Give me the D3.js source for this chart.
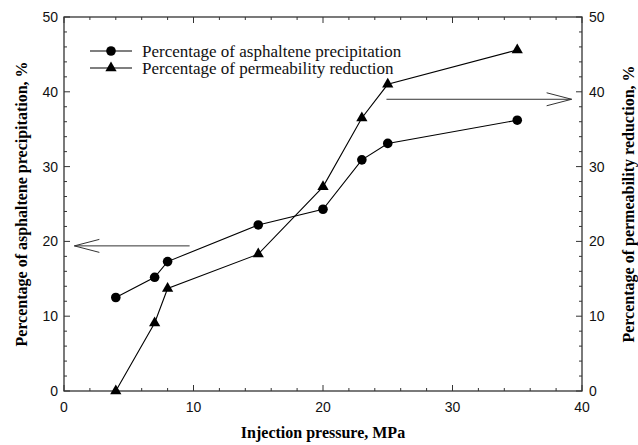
<!DOCTYPE html>
<html>
<head>
<meta charset="utf-8">
<script src="https://cdn.jsdelivr.net/npm/d3@7"></script>
<style>
  body { margin: 0; background: #fff; }
  svg { display: block; }
  .serif { font-family: "Liberation Serif", "Times New Roman", "DejaVu Serif", serif; }
  .sans { font-family: "Liberation Sans", Arial, sans-serif; }
</style>
</head>
<body>
<div id="chart"></div>
<script>
// ========================
// DATA
// ========================
const pressure = [4, 7, 8, 15, 20, 23, 25, 35];
const asphaltenePct = [12.5, 15.2, 17.3, 22.2, 24.3, 30.9, 33.1, 36.2];
const permeabilityPct = [0, 9.1, 13.7, 18.3, 27.3, 36.5, 41.0, 45.6];
const xTicks = [0, 10, 20, 30, 40];
const yTicks = [0, 10, 20, 30, 40, 50];
const seriesNames = ["Percentage of asphaltene precipitation", "Percentage of permeability reduction"];
// arrows: [fromX, toX, yValue]
const arrowLeft = [9.7, 0.8, 19.4];
const arrowRight = [24.9, 39.2, 39.0];

// ========================
// SETUP
// ========================
const width = 638, height = 445;
const margin = { top: 17, right: 56, bottom: 54, left: 64 };
const innerW = width - margin.left - margin.right;
const innerH = height - margin.top - margin.bottom;

const svg = d3.select("#chart").append("svg")
    .attr("width", width)
    .attr("height", height);

const g = svg.append("g").attr("transform", `translate(${margin.left},${margin.top})`);

const x = d3.scaleLinear().domain([0, 40]).range([0, innerW]);
const yL = d3.scaleLinear().domain([0, 50]).range([innerH, 0]);
const yR = d3.scaleLinear().domain([0, 50]).range([innerH, 0]);

const axisColor = "#333";

// frame
g.append("rect")
    .attr("width", innerW).attr("height", innerH)
    .attr("fill", "none").attr("stroke", axisColor).attr("stroke-width", 1.3);

// ticks (inward), major every 10, minor every 2
const minor = d3.range(0, 40.01, 2).filter(v => v % 10 !== 0);
const minorY = d3.range(0, 50.01, 2).filter(v => v % 10 !== 0);

function drawTicks(values, len) {
    values.forEach(v => {
        g.append("line").attr("x1", x(v)).attr("x2", x(v))
            .attr("y1", innerH).attr("y2", innerH - len)
            .attr("stroke", axisColor).attr("stroke-width", 1);
        g.append("line").attr("x1", x(v)).attr("x2", x(v))
            .attr("y1", 0).attr("y2", len)
            .attr("stroke", axisColor).attr("stroke-width", 1);
    });
}
function drawYTicks(values, len) {
    values.forEach(v => {
        g.append("line").attr("x1", 0).attr("x2", len)
            .attr("y1", yL(v)).attr("y2", yL(v))
            .attr("stroke", axisColor).attr("stroke-width", 1);
        g.append("line").attr("x1", innerW).attr("x2", innerW - len)
            .attr("y1", yR(v)).attr("y2", yR(v))
            .attr("stroke", axisColor).attr("stroke-width", 1);
    });
}
drawTicks(xTicks, 6);
drawTicks(minor, 3);
drawYTicks(yTicks, 6);
drawYTicks(minorY, 3);

// tick labels
g.selectAll(".xl").data(xTicks).enter().append("text")
    .attr("class", "sans")
    .attr("x", d => x(d)).attr("y", innerH + 21)
    .attr("text-anchor", "middle")
    .attr("font-size", 14).attr("fill", "#111")
    .text(d => d);
g.selectAll(".yl").data(yTicks).enter().append("text")
    .attr("class", "sans")
    .attr("x", -6).attr("y", d => yL(d) + 5)
    .attr("text-anchor", "end")
    .attr("font-size", 14).attr("fill", "#111")
    .text(d => d);
g.selectAll(".yr").data(yTicks).enter().append("text")
    .attr("class", "sans")
    .attr("x", innerW + 7).attr("y", d => yR(d) + 5)
    .attr("text-anchor", "start")
    .attr("font-size", 14).attr("fill", "#111")
    .text(d => d);

// axis titles
svg.append("text")
    .attr("class", "serif")
    .attr("x", margin.left + innerW / 2).attr("y", 438)
    .attr("text-anchor", "middle")
    .attr("font-weight", "bold").attr("font-size", 16)
    .text("Injection pressure, MPa");
svg.append("text")
    .attr("class", "serif")
    .attr("transform", `translate(27,${margin.top + innerH / 2}) rotate(-90)`)
    .attr("text-anchor", "middle")
    .attr("font-weight", "bold").attr("font-size", 16)
    .text("Percentage of asphaltene precipitation, %");
svg.append("text")
    .attr("class", "serif")
    .attr("transform", `translate(634,${margin.top + innerH / 2}) rotate(-90)`)
    .attr("text-anchor", "middle")
    .attr("font-weight", "bold").attr("font-size", 16)
    .text("Percentage of permeability reduction, %");

// ========================
// SERIES
// ========================
const lineA = d3.line().x((d, i) => x(pressure[i])).y(d => yL(d));
const lineP = d3.line().x((d, i) => x(pressure[i])).y(d => yR(d));

g.append("path").attr("d", lineA(asphaltenePct))
    .attr("fill", "none").attr("stroke", "#000").attr("stroke-width", 1.1);
g.append("path").attr("d", lineP(permeabilityPct))
    .attr("fill", "none").attr("stroke", "#000").attr("stroke-width", 1.1);

const tri = d3.symbol().type(d3.symbolTriangle).size(55);

g.selectAll(".dotA").data(asphaltenePct).enter().append("circle")
    .attr("cx", (d, i) => x(pressure[i])).attr("cy", d => yL(d))
    .attr("r", 4.8).attr("fill", "#000");
g.selectAll(".dotP").data(permeabilityPct).enter().append("path")
    .attr("d", tri)
    .attr("transform", (d, i) => `translate(${x(pressure[i])},${yR(d)})`)
    .attr("fill", "#000");

// ========================
// ARROWS (open heads)
// ========================
function drawArrow([from, to, yv], scale) {
    const x1 = x(from), x2 = x(to), yy = scale(yv);
    const dir = Math.sign(x2 - x1);
    g.append("line").attr("x1", x1).attr("x2", x2).attr("y1", yy).attr("y2", yy)
        .attr("stroke", "#333").attr("stroke-width", 1);
    g.append("path")
        .attr("d", `M${x2 - dir * 25},${yy - 6.5}L${x2},${yy}L${x2 - dir * 25},${yy + 6.5}`)
        .attr("fill", "none").attr("stroke", "#333").attr("stroke-width", 1);
}
drawArrow(arrowLeft, yL);
drawArrow(arrowRight, yR);

// ========================
// LEGEND
// ========================
const legend = svg.append("g").attr("transform", "translate(90,51)");
seriesNames.forEach((name, i) => {
    const row = legend.append("g").attr("transform", `translate(0,${i * 17})`);
    row.append("line").attr("x1", 0).attr("x2", 42).attr("y1", 0).attr("y2", 0)
        .attr("stroke", "#000").attr("stroke-width", 1.1);
    if (i === 0) {
        row.append("circle").attr("cx", 21).attr("cy", 0).attr("r", 4.8).attr("fill", "#000");
    } else {
        row.append("path").attr("d", tri).attr("transform", "translate(21,0)").attr("fill", "#000");
    }
    row.append("text").attr("class", "serif").attr("x", 52).attr("y", 6)
        .attr("font-size", 17).attr("fill", "#111")
        .text(name);
});
</script>
</body>
</html>
